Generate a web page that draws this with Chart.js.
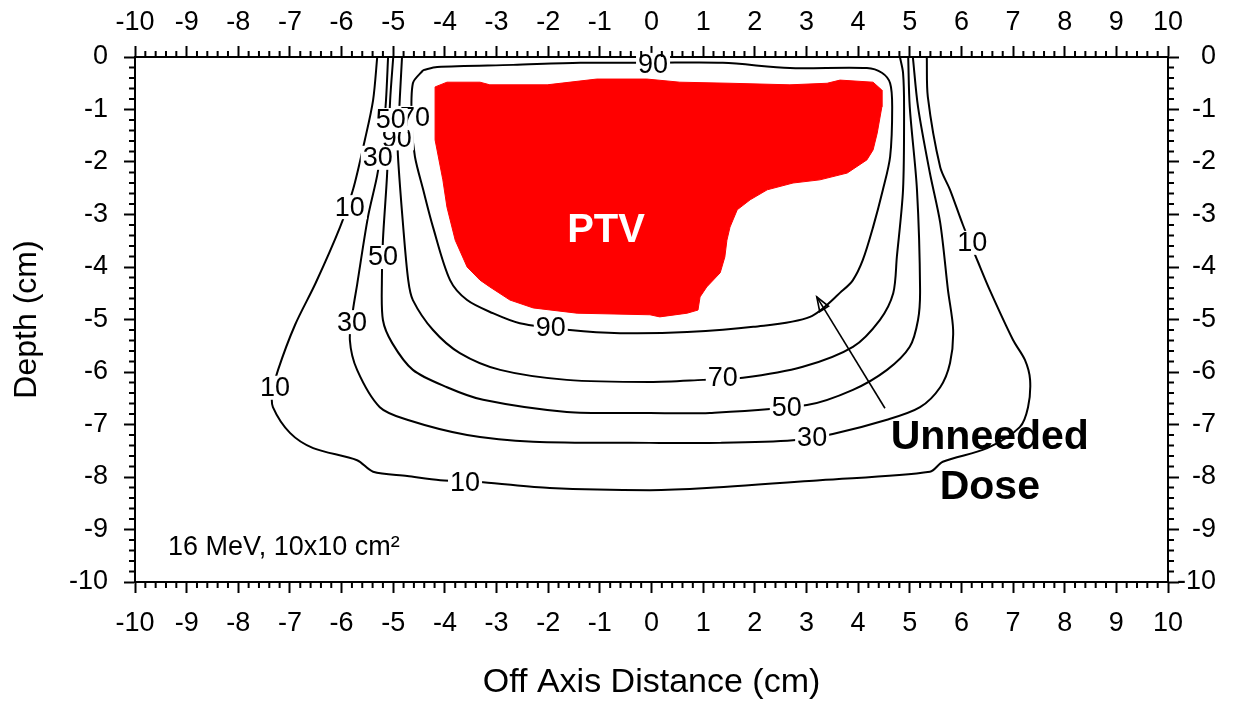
<!DOCTYPE html>
<html>
<head>
<meta charset="utf-8">
<title>16 MeV isodose</title>
<script src="https://cdn.jsdelivr.net/npm/chart.js@4.4.0/dist/chart.umd.min.js"></script>
<style>
  html, body { margin: 0; padding: 0; background: #fff; }
  canvas { display: block; }
</style>
</head>
<body>
<canvas id="doseChart" width="1244" height="705"></canvas>
<script>
// axis ranges (cm)
const xRange = [-10, 10];
const depthRange = [-10, 0];

// isodose lines, [off axis cm, depth cm]
const iso10 = [[-5.31,0],[-5.39,-0.82],[-5.55,-1.58],[-5.78,-2.53],[-6.03,-3.24],[-6.50,-4.30],[-6.90,-5.10],
  [-7.23,-5.96],[-7.34,-6.40],[-7.33,-6.67],[-7.00,-7.16],[-6.55,-7.45],[-5.70,-7.68],[-5.39,-7.90],[-4.73,-7.98],
  [-4.09,-8.06],[-3.26,-8.10],[-1.97,-8.21],[-0.03,-8.25],[1.07,-8.21],[3.26,-8.06],[5.39,-7.90],[5.64,-7.71],
  [6.50,-7.45],[7.13,-7.05],[7.29,-6.67],[7.33,-6.15],[7.23,-5.77],[7.00,-5.39],[6.55,-4.44],[6.32,-3.90],
  [6.03,-3.20],[5.78,-2.53],[5.59,-2.10],[5.35,-0.76],[5.33,0]];
const iso30 = [[-5.10,0],[-5.14,-0.82],[-5.20,-1.52],[-5.31,-2.25],[-5.49,-3.05],[-5.70,-4.34],[-5.78,-4.82],
  [-5.84,-5.39],[-5.70,-5.96],[-5.26,-6.67],[-4.73,-6.91],[-3.57,-7.20],[-2.29,-7.33],[-0.03,-7.35],[1.33,-7.35],
  [2.74,-7.30],[3.51,-7.18],[4.56,-6.91],[5.20,-6.67],[5.59,-6.29],[5.78,-5.83],[5.84,-5.20],[5.74,-4.44],
  [5.59,-3.16],[5.39,-2.21],[5.16,-0.95],[5.06,0]];
const iso50 = [[-5.00,0],[-5.06,-0.82],[-5.12,-2.25],[-5.20,-3.49],[-5.22,-4.25],[-5.20,-5.01],[-5.02,-5.45],
  [-4.62,-5.96],[-3.96,-6.29],[-3.26,-6.53],[-1.64,-6.76],[-0.03,-6.78],[1.13,-6.78],[3.01,-6.63],[3.90,-6.34],
  [4.56,-5.96],[5.00,-5.52],[5.16,-5.01],[5.20,-4.44],[5.14,-2.53],[5.00,-0.95],[4.97,0]];
const iso70 = [[-4.83,0],[-4.91,-1.52],[-4.91,-1.87],[-4.81,-3.20],[-4.71,-4.25],[-4.62,-4.63],[-4.23,-5.20],
  [-3.71,-5.64],[-2.93,-5.96],[-1.64,-6.15],[-0.03,-6.19],[1.00,-6.15],[1.77,-6.11],[2.93,-5.90],[3.90,-5.52],
  [4.42,-5.01],[4.68,-4.50],[4.75,-3.81],[4.87,-2.53],[4.89,-0.95],[4.87,-0.30],[4.81,0]];
const iso90 = [[-4.42,-0.25],[-4.15,-0.19],[-2.68,-0.15],[-1.38,-0.11],[0.03,-0.11],[1.38,-0.11],[2.68,-0.21],
  [4.17,-0.21],[4.46,-0.30],[4.62,-0.50],[4.66,-0.95],[4.62,-1.90],[4.48,-2.53],[4.29,-3.24],[4.09,-3.87],
  [3.90,-4.25],[3.71,-4.44],[3.07,-4.95],[1.97,-5.14],[0.69,-5.24],[-0.61,-5.26],[-1.58,-5.20],[-2.55,-5.07],
  [-3.07,-4.88],[-3.57,-4.63],[-3.90,-4.25],[-4.23,-3.24],[-4.42,-2.53],[-4.58,-1.90],[-4.64,-1.30],
  [-4.62,-0.50],[-4.42,-0.25]];

// planning target volume outline
const ptv = [[-4.19,-0.57],[-3.96,-0.48],[-3.32,-0.48],[-3.13,-0.53],[-2.02,-0.53],[-1.06,-0.42],[-0.09,-0.42],
  [0.55,-0.48],[1.52,-0.50],[2.68,-0.53],[3.40,-0.50],[3.65,-0.44],[4.29,-0.48],[4.46,-0.63],[4.46,-0.95],
  [4.37,-1.45],[4.29,-1.77],[4.17,-1.96],[3.79,-2.21],[3.26,-2.34],[2.74,-2.40],[2.24,-2.53],[1.91,-2.72],
  [1.66,-2.91],[1.52,-3.24],[1.46,-3.49],[1.42,-3.81],[1.33,-4.11],[1.07,-4.38],[0.94,-4.57],[0.90,-4.82],
  [0.69,-4.88],[0.16,-4.95],[-0.03,-4.91],[-1.44,-4.88],[-2.29,-4.78],[-2.74,-4.63],[-3.13,-4.38],
  [-3.32,-4.25],[-3.57,-4.00],[-3.80,-3.49],[-3.96,-2.86],[-4.04,-2.34],[-4.19,-1.58],[-4.19,-0.57]];

// contour labels [text, x, depth] (drawn in this order, later ones on top)
const contourLabels = [
  ['10', -5.84, -2.86], ['10', -7.29, -6.30], ['10', -3.61, -8.10], ['10', 6.21, -3.54],
  ['30', -5.80, -5.05], ['30', 3.11, -7.24],
  ['50', -5.20, -3.81], ['50', 2.62, -6.67],
  ['70', 1.38, -6.11],
  ['90', 0.03, -0.15], ['90', -1.95, -5.16],
  ['90', -4.93, -1.55], ['70', -4.58, -1.16], ['50', -5.05, -1.20], ['30', -5.30, -1.92]
];

const arrowFrom = [4.52, -6.69];
const arrowTo = [3.20, -4.57];
const notes = [
  { text: 'PTV', x: -0.88, y: -3.31, style: 'ptv' },
  { text: 'Unneeded', x: 6.55, y: -7.26, style: 'big' },
  { text: 'Dose', x: 6.55, y: -8.21, style: 'big' },
  { text: '16 MeV, 10x10 cm\u00B2', x: -9.36, y: -9.35, style: 'small' }
];

const FONT = '"Liberation Sans", Arial, sans-serif';

const toXY = pts => pts.map(([x, y]) => ({ x, y }));

const contourSet = pts => ({
  data: toXY(pts), showLine: true, fill: false,
  borderColor: '#000', borderWidth: 2, pointRadius: 0, tension: 0.3
});

// minor ticks every 0.2 cm, pointing out of the frame
const minorTicks = {
  id: 'minorTicks',
  afterDraw(chart) {
    const { ctx, chartArea: a } = chart;
    const xs = chart.scales.x, ys = chart.scales.y;
    ctx.save();
    ctx.strokeStyle = '#000';
    ctx.lineWidth = 2;
    ctx.beginPath();
    for (let i = xRange[0] * 5; i <= xRange[1] * 5; i++) {
      if (i % 5 === 0) continue;
      const px = xs.getPixelForValue(i / 5);
      ctx.moveTo(px, a.top); ctx.lineTo(px, a.top - 6);
      ctx.moveTo(px, a.bottom); ctx.lineTo(px, a.bottom + 6);
    }
    for (let i = depthRange[0] * 5; i <= depthRange[1] * 5; i++) {
      if (i % 5 === 0) continue;
      const py = ys.getPixelForValue(i / 5);
      ctx.moveTo(a.left, py); ctx.lineTo(a.left - 6, py);
      ctx.moveTo(a.right, py); ctx.lineTo(a.right + 6, py);
    }
    ctx.stroke();
    ctx.restore();
  }
};

// contour labels, arrow and text notes
const annotations = {
  id: 'annotations',
  afterDatasetsDraw(chart) {
    const ctx = chart.ctx;
    const xs = chart.scales.x, ys = chart.scales.y;
    ctx.save();
    ctx.textAlign = 'center';
    ctx.textBaseline = 'middle';
    ctx.font = '27px ' + FONT;
    contourLabels.forEach(([t, x, y]) => {
      const px = xs.getPixelForValue(x), py = ys.getPixelForValue(y);
      const w = ctx.measureText(t).width;
      ctx.fillStyle = '#fff';
      ctx.fillRect(px - w / 2 - 2, py - 12, w + 4, 24);
      ctx.fillStyle = '#000';
      ctx.fillText(t, px, py + 1);
    });

    // arrow
    const x1 = xs.getPixelForValue(arrowFrom[0]), y1 = ys.getPixelForValue(arrowFrom[1]);
    const x2 = xs.getPixelForValue(arrowTo[0]), y2 = ys.getPixelForValue(arrowTo[1]);
    const ang = Math.atan2(y2 - y1, x2 - x1);
    ctx.strokeStyle = '#000';
    ctx.lineWidth = 1.6;
    ctx.beginPath();
    ctx.moveTo(x1, y1); ctx.lineTo(x2, y2);
    ctx.stroke();
    ctx.beginPath();
    ctx.moveTo(x2, y2);
    ctx.lineTo(x2 - 15 * Math.cos(ang - 0.35), y2 - 15 * Math.sin(ang - 0.35));
    ctx.lineTo(x2 - 15 * Math.cos(ang + 0.35), y2 - 15 * Math.sin(ang + 0.35));
    ctx.closePath();
    ctx.stroke();

    notes.forEach(n => {
      const px = xs.getPixelForValue(n.x), py = ys.getPixelForValue(n.y);
      if (n.style === 'ptv') {
        ctx.font = 'bold 40px ' + FONT; ctx.fillStyle = '#fff'; ctx.textAlign = 'center';
      } else if (n.style === 'big') {
        ctx.font = 'bold 41px ' + FONT; ctx.fillStyle = '#000'; ctx.textAlign = 'center';
      } else {
        ctx.font = '27px ' + FONT; ctx.fillStyle = '#000'; ctx.textAlign = 'left';
      }
      ctx.fillText(n.text, px, py);
    });
    ctx.restore();
  }
};

const tickFont = { family: FONT, size: 27 };
const gridOpts = { drawOnChartArea: false, drawTicks: true, tickLength: 11, tickColor: '#000', tickWidth: 2 };
const borderOpts = { display: true, color: '#000', width: 2 };

new Chart(document.getElementById('doseChart'), {
  type: 'scatter',
  data: {
    datasets: [
      contourSet(iso10), contourSet(iso30), contourSet(iso50), contourSet(iso70), contourSet(iso90),
      {
        data: toXY(ptv), showLine: true, fill: 'shape',
        backgroundColor: '#ff0000', borderColor: '#ff0000', borderWidth: 1, pointRadius: 0, tension: 0
      }
    ]
  },
  options: {
    responsive: false,
    devicePixelRatio: 1,
    animation: false,
    events: [],
    layout: { padding: { right: 28 } },
    plugins: { legend: { display: false }, tooltip: { enabled: false } },
    scales: {
      x: {
        type: 'linear', position: 'bottom', min: xRange[0], max: xRange[1], z: 1,
        ticks: { stepSize: 1, autoSkip: false, maxRotation: 0, font: tickFont, color: '#000', padding: 14, callback: v => String(v) },
        grid: gridOpts, border: borderOpts,
        title: { display: true, text: 'Off Axis Distance (cm)', color: '#000',
                 font: { family: FONT, size: 34, lineHeight: 1 }, padding: { top: 0, bottom: 5 } },
        afterFit: s => { s.height = 123; }
      },
      x2: {
        type: 'linear', position: 'top', min: xRange[0], max: xRange[1], z: 1,
        ticks: { stepSize: 1, autoSkip: false, maxRotation: 0, font: tickFont, color: '#000', padding: 7, callback: v => String(v) },
        grid: gridOpts, border: borderOpts,
        afterFit: s => { s.height = 57; }
      },
      y: {
        type: 'linear', position: 'left', min: depthRange[0], max: depthRange[1], z: 1,
        ticks: { stepSize: 1, font: tickFont, color: '#000', padding: 16, callback: v => String(v) },
        grid: gridOpts, border: borderOpts,
        title: { display: true, text: 'Depth (cm)', color: '#000',
                 font: { family: FONT, size: 32, lineHeight: 1 }, padding: { top: 11, bottom: 0 } },
        afterFit: s => { s.width = 135; }
      },
      y2: {
        type: 'linear', position: 'right', min: depthRange[0], max: depthRange[1], z: 1,
        ticks: { stepSize: 1, font: tickFont, color: '#000', padding: 14, crossAlign: 'far', callback: v => String(v) },
        grid: gridOpts, border: borderOpts,
        afterFit: s => { s.width = 48; }
      }
    }
  },
  plugins: [annotations, minorTicks]
});
</script>
</body>
</html>
